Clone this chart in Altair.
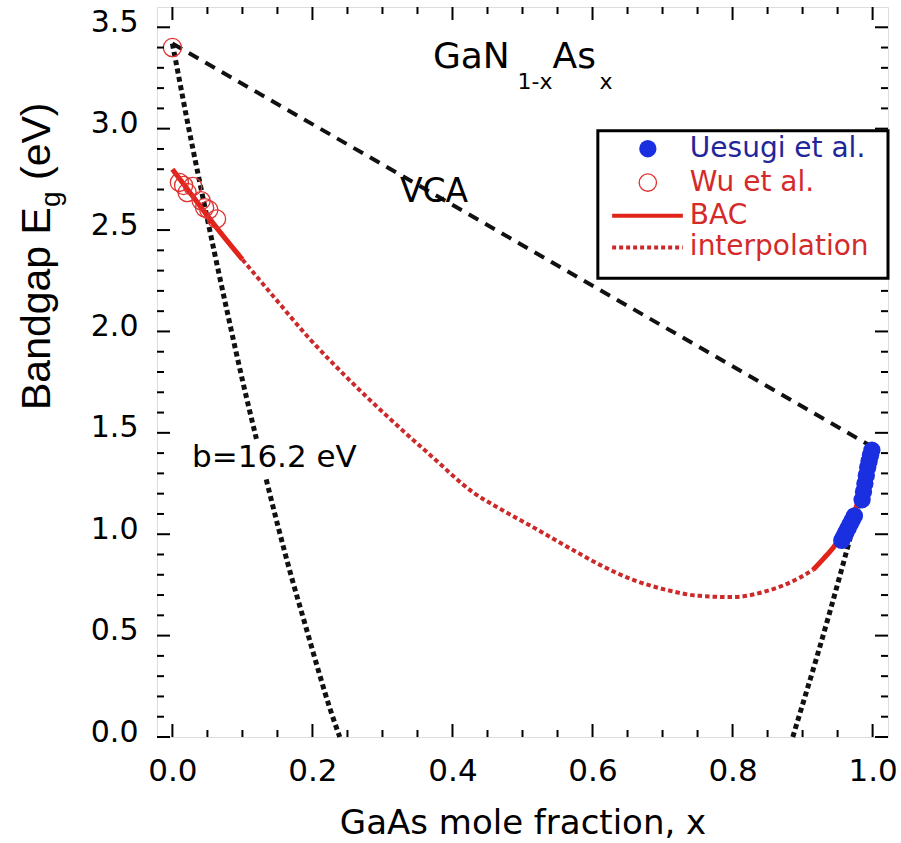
import altair as alt
import pandas as pd

FONT = "DejaVu Sans"
FONT_Y = "Liberation Sans"

# ---------------- data ----------------
vca_x = [0.0, 1.0]
vca_y = [3.42, 1.43]

bow1_x = [0.0, 0.01, 0.02, 0.04, 0.06, 0.08, 0.10, 0.12]
bow1_y = [3.42, 3.24, 3.06, 2.72, 2.39, 2.07, 1.76, 1.47]
bow2_x = [0.134, 0.15, 0.17, 0.19, 0.21, 0.225, 0.239]
bow2_y = [1.27, 1.05, 0.79, 0.55, 0.31, 0.14, 0.0]
bow3_x = [0.886, 0.90, 0.92, 0.94, 0.96, 0.98, 1.0]
bow3_y = [0.0, 0.16, 0.39, 0.63, 0.88, 1.14, 1.42]

bacL_x = [0.0, 0.025, 0.05, 0.075, 0.10]
bacL_y = [2.80, 2.685, 2.57, 2.46, 2.355]
bacR_x = [0.915, 0.93, 0.945, 0.96, 0.975, 0.99, 1.0]
bacR_y = [0.825, 0.88, 0.94, 1.02, 1.12, 1.28, 1.42]

interp_x = [0.10, 0.145, 0.193, 0.25, 0.312, 0.37, 0.43, 0.468, 0.515, 0.563,
            0.61, 0.658, 0.705, 0.752, 0.80, 0.847, 0.895, 0.915]
interp_y = [2.355, 2.17, 1.975, 1.77, 1.565, 1.385, 1.205, 1.125, 1.035, 0.94,
            0.85, 0.775, 0.726, 0.696, 0.69, 0.718, 0.784, 0.825]

wu_x = [0.0, 0.010, 0.016, 0.029, 0.021, 0.041, 0.046, 0.052, 0.063]
wu_y = [3.40, 2.735, 2.72, 2.715, 2.685, 2.645, 2.61, 2.60, 2.555]

ue_x = [0.956, 0.959, 0.962, 0.965, 0.968, 0.971, 0.974, 0.985, 0.987, 0.989,
        0.991, 0.993, 0.995, 0.997, 0.999]
ue_y = [0.97, 0.99, 1.01, 1.03, 1.05, 1.07, 1.09, 1.17, 1.21, 1.25,
        1.29, 1.33, 1.36, 1.39, 1.415]

series = ["Uesugi et al.", "Wu et al.", "BAC", "interpolation"]
label_colors = ["#22269a", "#d42a2a", "#d42a2a", "#d42a2a"]
BLUE, RED, RED_D, RED_O = "#1a2fe0", "#e2231a", "#cc2a2a", "#e03030"

x_major = [0.0, 0.2, 0.4, 0.6, 0.8, 1.0]
x_minor = [0.05, 0.1, 0.15, 0.25, 0.3, 0.35, 0.45, 0.5, 0.55, 0.65, 0.7, 0.75, 0.85, 0.9, 0.95]
y_major = [0.0, 0.5, 1.0, 1.5, 2.0, 2.5, 3.0, 3.5]
y_minor = [v / 10 for v in range(1, 36) if v % 5 != 0]

ann_text = ["GaN", "1-x", "As", "x", "VCA", "b=16.2 eV"]
ann_x = [0.372, 0.493, 0.543, 0.610, 0.325, 0.028]
ann_y = [3.30, 3.195, 3.30, 3.195, 2.64, 1.33]
ann_fs = [36, 22, 36, 22, 33, 31]

# ---------------- layout (kept apart from the data) ----------------
W, H = 731, 730
LEFT, TOP = 157, 7
# legend box, in axis units (inside the plot, upper right)
LEG_BOX = dict(x=0.6076, x2=1.022, y=2.262, y2=2.99)
LEG_ROWS = [2.901, 2.734, 2.571, 2.414]
LEG_SYM_X, LEG_LINE_X0, LEG_LINE_X1, LEG_TEXT_X = 0.679, 0.628, 0.729, 0.739

# ---------------- frames ----------------
vca_df = pd.DataFrame({"x": vca_x, "y": vca_y})
bow_df = pd.concat([
    pd.DataFrame({"x": bow1_x, "y": bow1_y, "seg": "a"}),
    pd.DataFrame({"x": bow2_x, "y": bow2_y, "seg": "b"}),
    pd.DataFrame({"x": bow3_x, "y": bow3_y, "seg": "c"}),
])
bac_df = pd.concat([
    pd.DataFrame({"x": bacL_x, "y": bacL_y, "seg": "L"}),
    pd.DataFrame({"x": bacR_x, "y": bacR_y, "seg": "R"}),
])
interp_df = pd.DataFrame({"x": interp_x, "y": interp_y})
wu_df = pd.DataFrame({"x": wu_x, "y": wu_y})
ue_df = pd.DataFrame({"x": ue_x, "y": ue_y})
ann_df = pd.DataFrame({"x": ann_x, "y": ann_y, "t": ann_text, "fs": ann_fs})

xs = alt.Scale(domain=[-0.022, 1.022], nice=False, zero=False)
ys = alt.Scale(domain=[0.0, 3.6], nice=False, zero=False)
xaxis = alt.Axis(values=x_major, format=".1f", ticks=False, domain=False, grid=False,
                 labelFont=FONT, labelFontSize=31, labelColor="black", labelPadding=19,
                 labelFlush=False,
                 title="GaAs mole fraction, x", titleFont=FONT, titleFontSize=34,
                 titleFontWeight="normal", titleColor="black", titlePadding=20)
yaxis = alt.Axis(values=y_major, format=".1f", ticks=False, domain=False, grid=False,
                 labelFont=FONT, labelFontSize=30, labelColor="black", labelPadding=19,
                 labelFlush=False, labelOffset=-5, title=None)


def X(f="x"):
    return alt.X(f, type="quantitative", scale=xs, axis=xaxis)


def Y(f="y"):
    return alt.Y(f, type="quantitative", scale=ys, axis=yaxis)


vca = alt.Chart(vca_df).mark_line(color="#111111", strokeWidth=4, strokeDash=[11, 8]).encode(x=X(), y=Y())
bow = alt.Chart(bow_df).mark_line(color="#111111", strokeWidth=5, strokeDash=[5, 3.5],
                                  interpolate="monotone").encode(x=X(), y=Y(), detail="seg:N")
interp = alt.Chart(interp_df).mark_line(color=RED_D, strokeWidth=4, strokeDash=[4.5, 3],
                                        interpolate="monotone").encode(x=X(), y=Y())
bac = alt.Chart(bac_df).mark_line(color=RED, strokeWidth=5, interpolate="monotone").encode(
    x=X(), y=Y(), detail="seg:N")
wu = alt.Chart(wu_df).mark_point(shape="circle", filled=False, size=330, strokeWidth=1.3,
                                 color=RED_O, opacity=1).encode(x=X(), y=Y())
ue = alt.Chart(ue_df).mark_point(shape="circle", filled=True, size=300, color=BLUE,
                                 opacity=1).encode(x=X(), y=Y())

ann = alt.Chart(ann_df).mark_text(align="left", baseline="alphabetic", font=FONT, color="black").encode(
    x=X(), y=Y(), text="t:N", size=alt.Size("fs:Q", scale=None, legend=None))

# y-axis title with subscript (rotated text pieces in the left margin)
one = pd.DataFrame({"k": [0]})
yt1 = alt.Chart(one).mark_text(text="Bandgap E", angle=270, align="left", baseline="alphabetic",
                               font=FONT_Y, fontSize=41, color="black").encode(
    x=alt.value(-107), y=alt.value(403))
yt2 = alt.Chart(one).mark_text(text="g", angle=270, align="left", baseline="alphabetic",
                               font=FONT_Y, fontSize=28, color="black").encode(
    x=alt.value(-97), y=alt.value(200))
yt3 = alt.Chart(one).mark_text(text="(eV)", angle=270, align="left", baseline="alphabetic",
                               font=FONT_Y, fontSize=41, color="black").encode(
    x=alt.value(-107), y=alt.value(173))

# inward ticks on all four sides
MJ, MN = 13, 7
xmaj_df = pd.DataFrame({"x": x_major})
xmin_df = pd.DataFrame({"x": x_minor})
ymaj_df = pd.DataFrame({"y": y_major})
ymin_df = pd.DataFrame({"y": y_minor})
ticks = []
for df, L in [(xmaj_df, MJ), (xmin_df, MN)]:
    for ypix in [H - L / 2, L / 2]:
        ticks.append(alt.Chart(df).mark_tick(orient="vertical", size=L, thickness=2, color="black",
                                             opacity=1).encode(x=X(), y=alt.value(ypix)))
for df, L in [(ymaj_df, MJ), (ymin_df, MN)]:
    for xpix in [L / 2, W - L / 2]:
        ticks.append(alt.Chart(df).mark_tick(orient="horizontal", size=L, thickness=2, color="black",
                                             opacity=1).encode(y=Y(), x=alt.value(xpix)))

# legend (box + entries) drawn inside the plot
box_df = pd.DataFrame({k: [v] for k, v in LEG_BOX.items()})
leg_box = alt.Chart(box_df).mark_rect(fill="white", stroke="black", strokeWidth=3).encode(
    x=X("x"), x2="x2", y=Y("y"), y2="y2")
leg_df = pd.DataFrame({"label": series, "lc": label_colors, "y": LEG_ROWS,
                       "sx": LEG_SYM_X, "lx0": LEG_LINE_X0, "lx1": LEG_LINE_X1, "tx": LEG_TEXT_X})
leg_ue = alt.Chart(leg_df.iloc[[0]]).mark_point(shape="circle", filled=True, size=300, color=BLUE,
                                                opacity=1).encode(x=X("sx"), y=Y("y"))
leg_wu = alt.Chart(leg_df.iloc[[1]]).mark_point(shape="circle", filled=False, size=300, strokeWidth=1.3,
                                                color=RED_O, opacity=1).encode(x=X("sx"), y=Y("y"))
leg_bac = alt.Chart(leg_df.iloc[[2]]).mark_rule(color=RED, strokeWidth=4).encode(
    x=X("lx0"), x2="lx1", y=Y("y"))
leg_int = alt.Chart(leg_df.iloc[[3]]).mark_rule(color=RED_D, strokeWidth=4, strokeDash=[4, 3]).encode(
    x=X("lx0"), x2="lx1", y=Y("y"))
leg_txt = alt.Chart(leg_df).mark_text(align="left", baseline="middle", font=FONT, fontSize=28).encode(
    x=X("tx"), y=Y("y"), text="label:N", color=alt.Color("lc:N", scale=None))

chart = alt.layer(vca, bow, interp, bac, wu, ue, ann, yt1, yt2, yt3, *ticks,
                  leg_box, leg_ue, leg_wu, leg_bac, leg_int, leg_txt).properties(
    width=W, height=H,
    padding={"left": LEFT, "top": TOP, "right": 901 - LEFT - W, "bottom": 843 - TOP - H},
    autosize=alt.AutoSizeParams(type="none"),
).configure_view(stroke="black", strokeWidth=2).configure(background="white")

chart.save("out.html", embed_options={"renderer": "svg", "actions": False})
